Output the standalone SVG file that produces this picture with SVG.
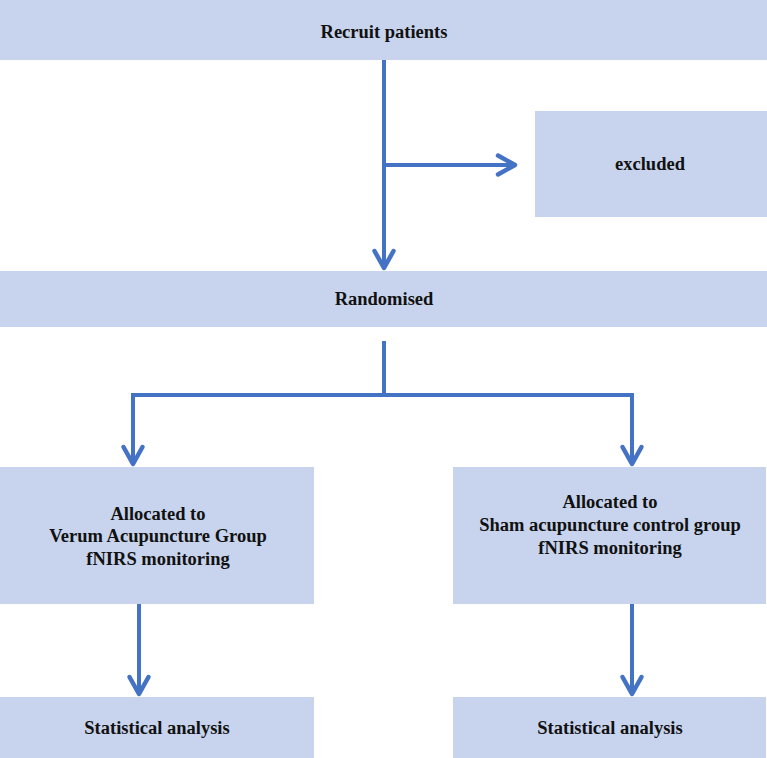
<svg xmlns="http://www.w3.org/2000/svg" width="767" height="758" viewBox="0 0 767 758">
  <style>
    .box { fill: #C8D4EE; }
    .lbl { font-family: "Liberation Serif", "Times New Roman", serif; font-weight: bold; font-size: 18.5px; fill: #111; text-anchor: middle; }
    .wire { fill: none; stroke: #4472C4; stroke-width: 4; stroke-linejoin: miter; }
  </style>
  <defs>
    <marker id="chev" markerUnits="userSpaceOnUse" viewBox="-24 -14 28 28" markerWidth="28" markerHeight="28" refX="0" refY="0" orient="auto" overflow="visible">
      <path d="M-17,-9.5 L0,0 L-17,9.5" fill="none" stroke="#4472C4" stroke-width="4.5" stroke-linecap="round" stroke-linejoin="round"/>
    </marker>
  </defs>

  <g id="recruit">
    <rect class="box" x="0" y="0" width="767" height="60"/>
    <text class="lbl" x="384" y="38">Recruit patients</text>
  </g>

  <g id="excluded">
    <rect class="box" x="535" y="111" width="232" height="106"/>
    <text class="lbl" x="650" y="170">excluded</text>
  </g>

  <g id="randomised">
    <rect class="box" x="0" y="271" width="767" height="56"/>
    <text class="lbl" x="384" y="305">Randomised</text>
  </g>

  <g id="verum">
    <rect class="box" x="0" y="467" width="314" height="137"/>
    <text class="lbl" x="158" y="520">Allocated to</text>
    <text class="lbl" x="158" y="542">Verum Acupuncture Group</text>
    <text class="lbl" x="158" y="565">fNIRS monitoring</text>
  </g>

  <g id="sham">
    <rect class="box" x="453" y="467" width="313" height="137"/>
    <text class="lbl" x="610" y="508">Allocated to</text>
    <text class="lbl" x="610" y="531">Sham acupuncture control group</text>
    <text class="lbl" x="610" y="554">fNIRS monitoring</text>
  </g>

  <g id="stats-left">
    <rect class="box" x="0" y="697" width="314" height="61"/>
    <text class="lbl" x="157" y="734">Statistical analysis</text>
  </g>

  <g id="stats-right">
    <rect class="box" x="453" y="697" width="313" height="61"/>
    <text class="lbl" x="610" y="734">Statistical analysis</text>
  </g>

  <g id="connectors">
    <path class="wire" d="M384 60 V268" marker-end="url(#chev)"/>
    <path class="wire" d="M384 165 H515" marker-end="url(#chev)"/>
    <path class="wire" d="M384 341 V395 H133 V464" marker-end="url(#chev)"/>
    <path class="wire" d="M384 395 H632 V464" marker-end="url(#chev)"/>
    <path class="wire" d="M139 604 V694" marker-end="url(#chev)"/>
    <path class="wire" d="M632 604 V694" marker-end="url(#chev)"/>
  </g>
</svg>
